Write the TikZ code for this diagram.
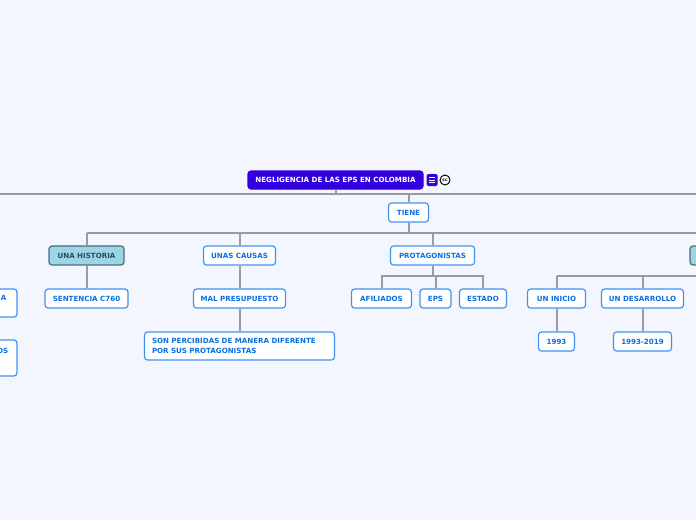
\documentclass[tikz,border=0pt]{standalone}
\usepackage{fontspec}
\setmainfont{DejaVu Sans}
\definecolor{bgc}{HTML}{F3F6FF}
\definecolor{linec}{HTML}{9A9AA4}
\definecolor{blueb}{HTML}{3E93F0}
\definecolor{bluet}{HTML}{0B6FE0}
\definecolor{rootc}{HTML}{3300DD}
\definecolor{teal}{HTML}{9CD5E3}
\definecolor{tealb}{HTML}{4A6E7C}
\definecolor{tealt}{HTML}{2B4A5C}
\tikzset{
 x=1pt,y=-1pt,
 lab/.style={font=\bfseries\fontsize{7.1}{9.2}\selectfont},
 box/.style={lab,draw=blueb,fill=white,rounded corners=3pt,line width=1.2pt,text=bluet,inner sep=0pt,align=center},
 tealbox/.style={box,draw=tealb,fill=teal,text=tealt},
 rootbox/.style={box,draw=rootc,fill=rootc,text=white},
 conn/.style={draw=linec,line width=2pt},
}
\newcommand{\bx}[7][box]{\node[#1,minimum width=#4pt,minimum height=#5pt,#6] (#2) at (#3) {#7};}
\begin{document}
\begin{tikzpicture}
\useasboundingbox (0,0) rectangle (696,520);
\clip (0,0) rectangle (696,520);
\fill[bgc] (0,0) rectangle (696,520);
% buses
\coordinate (a0) at (0,194); \coordinate (a1) at (696,194);
\coordinate (b0) at (86.5,233); \coordinate (b1) at (696,233);
\coordinate (c0) at (381.5,276); \coordinate (c1) at (483,276);
\coordinate (d0) at (556.5,276); \coordinate (d1) at (696,276);
% nodes
\bx[rootbox]{root}{335.5,180}{175}{18}{}{NEGLIGENCIA DE LAS EPS EN COLOMBIA}
\bx{tiene}{408.5,212.5}{40}{19}{}{TIENE}
\bx[tealbox]{hist}{86.5,255.5}{75}{19}{}{UNA HISTORIA}
\bx{causas}{239.5,255.5}{72}{19}{}{UNAS CAUSAS}
\bx{prot}{432.5,255.5}{84}{19}{}{PROTAGONISTAS}
\bx[tealbox]{rightt}{730,255.5}{80}{19}{}{}
\bx{sent}{86.5,298.5}{83}{19}{}{SENTENCIA C760}
\bx{mal}{239.5,298.5}{92}{19}{}{MAL PRESUPUESTO}
\bx{afil}{381.5,298.5}{60}{19}{}{AFILIADOS}
\bx{eps}{435.5,298.5}{31}{19}{}{EPS}
\bx{est}{483,298.5}{47}{19}{}{ESTADO}
\bx{ini}{556.5,298.5}{58}{19}{}{UN INICIO}
\bx{des}{642.5,298.5}{82}{19}{}{UN DESARROLLO}
\bx{y93}{556.5,341.5}{36}{19}{}{1993}
\bx{y19}{642.5,341.5}{58}{19}{}{1993-2019}
\bx{son}{239.5,346}{190}{28}{text width=175pt,align=left}{SON PERCIBIDAS DE MANERA DIFERENTE\\POR SUS PROTAGONISTAS}
\bx{left1}{-33,303}{100}{28}{}{}
\bx{left2}{-33,358}{100}{36}{}{}
\node[lab,text=bluet,anchor=east,inner sep=0pt] (lt1) at (6.5,298) {A};
\node[lab,text=bluet,anchor=east,inner sep=0pt] (lt2) at (8.5,350.5) {OS};
% icons
\node[fill=rootc,rounded corners=1.5pt,minimum width=11pt,minimum height=12pt,inner sep=0pt] (ico) at (432,180) {};
\draw[white,line width=0.8pt] (428.8,177.5) -- (435.2,177.5) (428.8,180) -- (435.2,180) (428.8,182.5) -- (435.2,182.5);
\node[circle,draw=black,line width=1pt,fill=white,minimum size=10pt,inner sep=0pt,font=\bfseries\fontsize{4.5}{5}\selectfont,text=black] (cc) at (445,180) {cc};
% connectors
\draw[conn] (a0) -- (a1);
\draw[conn] (root.south) -- (root.south |- a0);
\draw[conn] (tiene.north) -- (tiene.north |- a0);
\draw[conn] (tiene.south) -- (tiene.south |- b0);
\draw[conn] (b0) -- (b1);
\draw[conn] (hist.north) -- (hist.north |- b0);
\draw[conn] (causas.north) -- (causas.north |- b0);
\draw[conn] (prot.north) -- (prot.north |- b0);
\draw[conn] (hist.south) -- (sent.north);
\draw[conn] (causas.south) -- (mal.north);
\draw[conn] (mal.south) -- (son.north);
\draw[conn] (prot.south) -- (prot.south |- c0);
\draw[conn] (afil.north) |- (c0) -- (c1) -| (est.north);
\draw[conn] (eps.north) -- (eps.north |- c0);
\draw[conn] (d0) -- (d1);
\draw[conn] (ini.north) -- (ini.north |- d0);
\draw[conn] (des.north) -- (des.north |- d0);
\draw[conn] (ini.south) -- (y93.north);
\draw[conn] (des.south) -- (y19.north);
\end{tikzpicture}
\end{document}
